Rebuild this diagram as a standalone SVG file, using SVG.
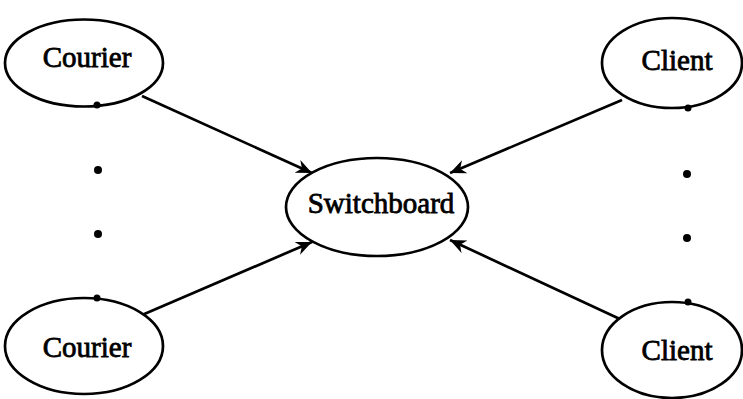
<svg xmlns="http://www.w3.org/2000/svg" width="743" height="399" viewBox="0 0 743 399">
  <style>
    .node ellipse { fill: #fff; stroke: #000; stroke-width: 2.7; }
    .node text { font-family: "Liberation Serif", "Times New Roman", serif; font-size: 29px; text-anchor: middle; fill: #000; stroke: #000; stroke-width: 0.8; }
    .edge { stroke: #000; stroke-width: 2.7; fill: none; }
    .dot { fill: #000; }
  </style>
  <defs>
    <marker id="arrow" markerUnits="userSpaceOnUse" markerWidth="20" markerHeight="16" refX="16" refY="7" orient="auto">
      <path d="M16,7 L0,0 L5,7 L0,14 Z" fill="#000"/>
    </marker>
  </defs>

  <!-- connectors -->
  <g id="connectors">
    <line class="edge" x1="142" y1="96" x2="312" y2="173" marker-end="url(#arrow)"/>
    <line class="edge" x1="622" y1="100" x2="450" y2="173" marker-end="url(#arrow)"/>
    <line class="edge" x1="142" y1="315" x2="312" y2="242" marker-end="url(#arrow)"/>
    <line class="edge" x1="622" y1="320" x2="450" y2="240" marker-end="url(#arrow)"/>
  </g>

  <g id="courier-top" class="node">
    <ellipse cx="84" cy="63" rx="79" ry="43.5"/>
    <text x="87" y="67">Courier</text>
  </g>
  <g id="courier-bottom" class="node">
    <ellipse cx="84" cy="346" rx="79" ry="48"/>
    <text x="87" y="357">Courier</text>
  </g>
  <g id="client-top" class="node">
    <ellipse cx="672" cy="63" rx="70" ry="45"/>
    <text x="677" y="70">Client</text>
  </g>
  <g id="client-bottom" class="node">
    <ellipse cx="672" cy="350" rx="70" ry="48"/>
    <text x="677" y="360">Client</text>
  </g>
  <g id="switchboard" class="node">
    <ellipse cx="377" cy="207" rx="91" ry="49"/>
    <text x="381" y="213">Switchboard</text>
  </g>

  <!-- ellipsis marks between repeated nodes -->
  <g id="ellipsis-left">
    <circle class="dot" cx="97" cy="105" r="3.5"/>
    <circle class="dot" cx="98" cy="170" r="4"/>
    <circle class="dot" cx="98" cy="234" r="4"/>
    <circle class="dot" cx="97" cy="298" r="3.5"/>
  </g>
  <g id="ellipsis-right">
    <circle class="dot" cx="688" cy="108" r="3.5"/>
    <circle class="dot" cx="687" cy="174" r="4"/>
    <circle class="dot" cx="687" cy="238" r="4"/>
    <circle class="dot" cx="688" cy="302" r="3.5"/>
  </g>
</svg>
